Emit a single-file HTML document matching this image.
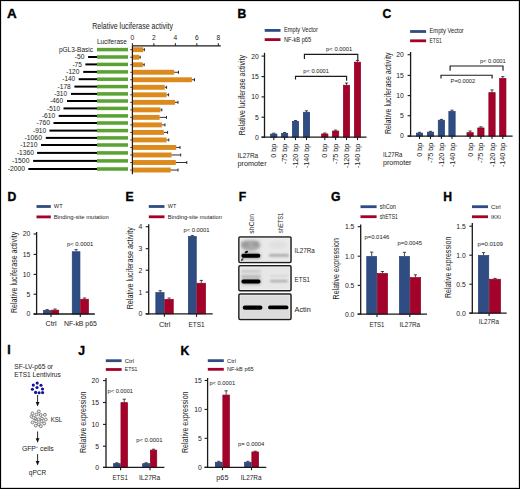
<!DOCTYPE html><html><head><meta charset="utf-8"><title>Figure</title><style>html,body{margin:0;padding:0;background:#fff;}svg{display:block;font-family:"Liberation Sans",sans-serif;}</style></head><body>
<svg width="520" height="489" viewBox="0 0 520 489" fill="#1a1a1a">
<rect x="0" y="0" width="520" height="489" fill="#fff"/>
<text x="7.1" y="17.6" font-size="12.2" font-weight="bold" fill="#000" style="stroke:#000;stroke-width:0.35px" transform="translate(7.1 0) scale(1.1 1) translate(-7.1 0)">A</text>
<text x="92.3" y="28.8" font-size="9.4" textLength="80.7" lengthAdjust="spacingAndGlyphs">Relative luciferase activity</text>
<text x="96.9" y="44.2" font-size="7.2" textLength="30" lengthAdjust="spacingAndGlyphs">Luciferase</text>
<line x1="132.4" y1="45.8" x2="220.8" y2="45.8" stroke="#1a1a1a" stroke-width="1.2"/>
<line x1="132.4" y1="43.2" x2="132.4" y2="45.8" stroke="#1a1a1a" stroke-width="1"/>
<text x="132.4" y="39.8" font-size="6.6" text-anchor="middle">0</text>
<line x1="153.88" y1="43.2" x2="153.88" y2="45.8" stroke="#1a1a1a" stroke-width="1"/>
<text x="153.88" y="39.8" font-size="6.6" text-anchor="middle">2</text>
<line x1="175.36" y1="43.2" x2="175.36" y2="45.8" stroke="#1a1a1a" stroke-width="1"/>
<text x="175.36" y="39.8" font-size="6.6" text-anchor="middle">4</text>
<line x1="196.84" y1="43.2" x2="196.84" y2="45.8" stroke="#1a1a1a" stroke-width="1"/>
<text x="196.84" y="39.8" font-size="6.6" text-anchor="middle">6</text>
<line x1="218.32" y1="43.2" x2="218.32" y2="45.8" stroke="#1a1a1a" stroke-width="1"/>
<text x="218.32" y="39.8" font-size="6.6" text-anchor="middle">8</text>
<line x1="132.4" y1="45.8" x2="132.4" y2="174.2" stroke="#1a1a1a" stroke-width="1.2"/>
<text x="58.9" y="51.85" font-size="7.4" textLength="34.1" lengthAdjust="spacingAndGlyphs">pGL3-Basic</text>
<rect x="97" y="47.85" width="31" height="3.5" fill="#5aa232"/>
<line x1="130.2" y1="49.7" x2="132.4" y2="49.7" stroke="#1a1a1a" stroke-width="0.8"/>
<rect x="133" y="47.25" width="10.2" height="4.9" fill="#dc8a1d"/>
<line x1="143.2" y1="49.7" x2="144.4" y2="49.7" stroke="#1a1a1a" stroke-width="0.9"/>
<line x1="144.4" y1="48.2" x2="144.4" y2="51.2" stroke="#1a1a1a" stroke-width="0.9"/>
<text x="74.8" y="59.25" font-size="7.4" textLength="9.7" lengthAdjust="spacingAndGlyphs">-50</text>
<rect x="88.1" y="56" width="8.9" height="2" fill="#000"/>
<rect x="97" y="55.25" width="31" height="3.5" fill="#5aa232"/>
<line x1="130.2" y1="57.22" x2="132.4" y2="57.22" stroke="#1a1a1a" stroke-width="0.8"/>
<rect x="133" y="54.77" width="6.2" height="4.9" fill="#dc8a1d"/>
<line x1="139.2" y1="57.22" x2="140.2" y2="57.22" stroke="#1a1a1a" stroke-width="0.9"/>
<line x1="140.2" y1="55.72" x2="140.2" y2="58.72" stroke="#1a1a1a" stroke-width="0.9"/>
<text x="72.4" y="66.65" font-size="7.4" textLength="9.4" lengthAdjust="spacingAndGlyphs">-75</text>
<rect x="85.4" y="63.4" width="11.6" height="2" fill="#000"/>
<rect x="97" y="62.65" width="31" height="3.5" fill="#5aa232"/>
<line x1="130.2" y1="64.74" x2="132.4" y2="64.74" stroke="#1a1a1a" stroke-width="0.8"/>
<rect x="133" y="62.29" width="9.8" height="4.9" fill="#dc8a1d"/>
<line x1="142.8" y1="64.74" x2="144.2" y2="64.74" stroke="#1a1a1a" stroke-width="0.9"/>
<line x1="144.2" y1="63.24" x2="144.2" y2="66.24" stroke="#1a1a1a" stroke-width="0.9"/>
<text x="66.3" y="74.15" font-size="7.4" textLength="13.1" lengthAdjust="spacingAndGlyphs">-120</text>
<rect x="83.2" y="70.9" width="13.8" height="2" fill="#000"/>
<rect x="97" y="70.15" width="31" height="3.5" fill="#5aa232"/>
<line x1="130.2" y1="72.26" x2="132.4" y2="72.26" stroke="#1a1a1a" stroke-width="0.8"/>
<rect x="133" y="69.81" width="41.2" height="4.9" fill="#dc8a1d"/>
<line x1="174.2" y1="72.26" x2="178.5" y2="72.26" stroke="#1a1a1a" stroke-width="0.9"/>
<line x1="178.5" y1="70.76" x2="178.5" y2="73.76" stroke="#1a1a1a" stroke-width="0.9"/>
<text x="62.3" y="81.45" font-size="7.4" textLength="12.8" lengthAdjust="spacingAndGlyphs">-140</text>
<rect x="78.7" y="78.2" width="18.3" height="2" fill="#000"/>
<rect x="97" y="77.45" width="31" height="3.5" fill="#5aa232"/>
<line x1="130.2" y1="79.78" x2="132.4" y2="79.78" stroke="#1a1a1a" stroke-width="0.8"/>
<rect x="133" y="77.33" width="58.9" height="4.9" fill="#dc8a1d"/>
<line x1="191.9" y1="79.78" x2="194.5" y2="79.78" stroke="#1a1a1a" stroke-width="0.9"/>
<line x1="194.5" y1="78.28" x2="194.5" y2="81.28" stroke="#1a1a1a" stroke-width="0.9"/>
<text x="57.6" y="88.85" font-size="7.4" textLength="13.2" lengthAdjust="spacingAndGlyphs">-178</text>
<rect x="74.4" y="85.6" width="22.6" height="2" fill="#000"/>
<rect x="97" y="84.85" width="31" height="3.5" fill="#5aa232"/>
<line x1="130.2" y1="87.3" x2="132.4" y2="87.3" stroke="#1a1a1a" stroke-width="0.8"/>
<rect x="133" y="84.85" width="31.7" height="4.9" fill="#dc8a1d"/>
<line x1="164.7" y1="87.3" x2="166.6" y2="87.3" stroke="#1a1a1a" stroke-width="0.9"/>
<line x1="166.6" y1="85.8" x2="166.6" y2="88.8" stroke="#1a1a1a" stroke-width="0.9"/>
<text x="54.2" y="96.15" font-size="7.4" textLength="12.8" lengthAdjust="spacingAndGlyphs">-310</text>
<rect x="71" y="92.9" width="26" height="2" fill="#000"/>
<rect x="97" y="92.15" width="31" height="3.5" fill="#5aa232"/>
<line x1="130.2" y1="94.82" x2="132.4" y2="94.82" stroke="#1a1a1a" stroke-width="0.8"/>
<rect x="133" y="92.37" width="33.5" height="4.9" fill="#dc8a1d"/>
<line x1="166.5" y1="94.82" x2="168.6" y2="94.82" stroke="#1a1a1a" stroke-width="0.9"/>
<line x1="168.6" y1="93.32" x2="168.6" y2="96.32" stroke="#1a1a1a" stroke-width="0.9"/>
<text x="50.2" y="103.25" font-size="7.4" textLength="12.8" lengthAdjust="spacingAndGlyphs">-460</text>
<rect x="67" y="100" width="30" height="2" fill="#000"/>
<rect x="97" y="99.25" width="31" height="3.5" fill="#5aa232"/>
<line x1="130.2" y1="102.34" x2="132.4" y2="102.34" stroke="#1a1a1a" stroke-width="0.8"/>
<rect x="133" y="99.89" width="42" height="4.9" fill="#dc8a1d"/>
<line x1="175" y1="102.34" x2="178" y2="102.34" stroke="#1a1a1a" stroke-width="0.9"/>
<line x1="178" y1="100.84" x2="178" y2="103.84" stroke="#1a1a1a" stroke-width="0.9"/>
<text x="47.1" y="110.65" font-size="7.4" textLength="12.9" lengthAdjust="spacingAndGlyphs">-510</text>
<rect x="63.5" y="107.4" width="33.5" height="2" fill="#000"/>
<rect x="97" y="106.65" width="31" height="3.5" fill="#5aa232"/>
<line x1="130.2" y1="109.86" x2="132.4" y2="109.86" stroke="#1a1a1a" stroke-width="0.8"/>
<rect x="133" y="107.41" width="27.4" height="4.9" fill="#dc8a1d"/>
<line x1="160.4" y1="109.86" x2="161.8" y2="109.86" stroke="#1a1a1a" stroke-width="0.9"/>
<line x1="161.8" y1="108.36" x2="161.8" y2="111.36" stroke="#1a1a1a" stroke-width="0.9"/>
<text x="41.9" y="118.15" font-size="7.4" textLength="13.3" lengthAdjust="spacingAndGlyphs">-610</text>
<rect x="58.7" y="114.9" width="38.3" height="2" fill="#000"/>
<rect x="97" y="114.15" width="31" height="3.5" fill="#5aa232"/>
<line x1="130.2" y1="117.38" x2="132.4" y2="117.38" stroke="#1a1a1a" stroke-width="0.8"/>
<rect x="133" y="114.93" width="26.6" height="4.9" fill="#dc8a1d"/>
<line x1="159.6" y1="117.38" x2="166.5" y2="117.38" stroke="#1a1a1a" stroke-width="0.9"/>
<line x1="166.5" y1="115.88" x2="166.5" y2="118.88" stroke="#1a1a1a" stroke-width="0.9"/>
<text x="36.5" y="125.25" font-size="7.4" textLength="13.5" lengthAdjust="spacingAndGlyphs">-760</text>
<rect x="53.5" y="122" width="43.5" height="2" fill="#000"/>
<rect x="97" y="121.25" width="31" height="3.5" fill="#5aa232"/>
<line x1="130.2" y1="124.9" x2="132.4" y2="124.9" stroke="#1a1a1a" stroke-width="0.8"/>
<rect x="133" y="122.45" width="28.9" height="4.9" fill="#dc8a1d"/>
<line x1="161.9" y1="124.9" x2="165" y2="124.9" stroke="#1a1a1a" stroke-width="0.9"/>
<line x1="165" y1="123.4" x2="165" y2="126.4" stroke="#1a1a1a" stroke-width="0.9"/>
<text x="33" y="132.85" font-size="7.4" textLength="13.2" lengthAdjust="spacingAndGlyphs">-910</text>
<rect x="49.4" y="129.6" width="47.6" height="2" fill="#000"/>
<rect x="97" y="128.85" width="31" height="3.5" fill="#5aa232"/>
<line x1="130.2" y1="132.42" x2="132.4" y2="132.42" stroke="#1a1a1a" stroke-width="0.8"/>
<rect x="133" y="129.97" width="30.8" height="4.9" fill="#dc8a1d"/>
<line x1="163.8" y1="132.42" x2="167.6" y2="132.42" stroke="#1a1a1a" stroke-width="0.9"/>
<line x1="167.6" y1="130.92" x2="167.6" y2="133.92" stroke="#1a1a1a" stroke-width="0.9"/>
<text x="24.6" y="140.15" font-size="7.4" textLength="17.3" lengthAdjust="spacingAndGlyphs">-1060</text>
<rect x="45.8" y="136.9" width="51.2" height="2" fill="#000"/>
<rect x="97" y="136.15" width="31" height="3.5" fill="#5aa232"/>
<line x1="130.2" y1="139.94" x2="132.4" y2="139.94" stroke="#1a1a1a" stroke-width="0.8"/>
<rect x="133" y="137.49" width="33.5" height="4.9" fill="#dc8a1d"/>
<line x1="166.5" y1="139.94" x2="168.8" y2="139.94" stroke="#1a1a1a" stroke-width="0.9"/>
<line x1="168.8" y1="138.44" x2="168.8" y2="141.44" stroke="#1a1a1a" stroke-width="0.9"/>
<text x="20.2" y="147.25" font-size="7.4" textLength="17.3" lengthAdjust="spacingAndGlyphs">-1210</text>
<rect x="41" y="144" width="56" height="2" fill="#000"/>
<rect x="97" y="143.25" width="31" height="3.5" fill="#5aa232"/>
<line x1="130.2" y1="147.46" x2="132.4" y2="147.46" stroke="#1a1a1a" stroke-width="0.8"/>
<rect x="133" y="145.01" width="43.2" height="4.9" fill="#dc8a1d"/>
<line x1="176.2" y1="147.46" x2="180" y2="147.46" stroke="#1a1a1a" stroke-width="0.9"/>
<line x1="180" y1="145.96" x2="180" y2="148.96" stroke="#1a1a1a" stroke-width="0.9"/>
<text x="16.9" y="155.15" font-size="7.4" textLength="17.1" lengthAdjust="spacingAndGlyphs">-1360</text>
<rect x="37.1" y="151.9" width="59.9" height="2" fill="#000"/>
<rect x="97" y="151.15" width="31" height="3.5" fill="#5aa232"/>
<line x1="130.2" y1="154.98" x2="132.4" y2="154.98" stroke="#1a1a1a" stroke-width="0.8"/>
<rect x="133" y="152.53" width="38.6" height="4.9" fill="#dc8a1d"/>
<line x1="171.6" y1="154.98" x2="180.7" y2="154.98" stroke="#1a1a1a" stroke-width="0.9"/>
<line x1="180.7" y1="153.48" x2="180.7" y2="156.48" stroke="#1a1a1a" stroke-width="0.9"/>
<text x="12.1" y="163.15" font-size="7.4" textLength="17.3" lengthAdjust="spacingAndGlyphs">-1500</text>
<rect x="33.1" y="159.9" width="63.9" height="2" fill="#000"/>
<rect x="97" y="159.15" width="31" height="3.5" fill="#5aa232"/>
<line x1="130.2" y1="162.5" x2="132.4" y2="162.5" stroke="#1a1a1a" stroke-width="0.8"/>
<rect x="133" y="160.05" width="42.8" height="4.9" fill="#dc8a1d"/>
<line x1="175.8" y1="162.5" x2="186.8" y2="162.5" stroke="#1a1a1a" stroke-width="0.9"/>
<line x1="186.8" y1="161" x2="186.8" y2="164" stroke="#1a1a1a" stroke-width="0.9"/>
<text x="7.7" y="171.25" font-size="7.4" textLength="17.3" lengthAdjust="spacingAndGlyphs">-2000</text>
<rect x="28.3" y="168" width="68.7" height="2" fill="#000"/>
<rect x="97" y="167.25" width="31" height="3.5" fill="#5aa232"/>
<line x1="130.2" y1="170.02" x2="132.4" y2="170.02" stroke="#1a1a1a" stroke-width="0.8"/>
<rect x="133" y="167.57" width="37.7" height="4.9" fill="#dc8a1d"/>
<line x1="170.7" y1="170.02" x2="178" y2="170.02" stroke="#1a1a1a" stroke-width="0.9"/>
<line x1="178" y1="168.52" x2="178" y2="171.52" stroke="#1a1a1a" stroke-width="0.9"/>
<text x="237.4" y="17.7" font-size="12.2" font-weight="bold" fill="#000" style="stroke:#000;stroke-width:0.35px">B</text>
<rect x="264.7" y="29" width="15.8" height="2.8" fill="#2f4d82"/>
<rect x="264.7" y="38.2" width="15.8" height="2.8" fill="#a3022b"/>
<text x="284" y="32.3" font-size="6.6" textLength="33.9" lengthAdjust="spacingAndGlyphs">Empty Vector</text>
<text x="284" y="41.5" font-size="6.6" textLength="27.1" lengthAdjust="spacingAndGlyphs">NF-kB p65</text>
<text transform="translate(244.8 135.3) rotate(-90)" x="0" y="0" font-size="9.9" textLength="80.2" lengthAdjust="spacingAndGlyphs">Relative luciferase activity</text>
<line x1="264.5" y1="52.8" x2="264.5" y2="137.7" stroke="#1a1a1a" stroke-width="1.3"/>
<line x1="261.5" y1="56.1" x2="264.5" y2="56.1" stroke="#1a1a1a" stroke-width="1.1"/>
<text x="258.8" y="58.55" font-size="6.8" text-anchor="end">20</text>
<line x1="261.5" y1="76.6" x2="264.5" y2="76.6" stroke="#1a1a1a" stroke-width="1.1"/>
<text x="258.8" y="79.05" font-size="6.8" text-anchor="end">15</text>
<line x1="261.5" y1="96.9" x2="264.5" y2="96.9" stroke="#1a1a1a" stroke-width="1.1"/>
<text x="258.8" y="99.35" font-size="6.8" text-anchor="end">10</text>
<line x1="261.5" y1="117.2" x2="264.5" y2="117.2" stroke="#1a1a1a" stroke-width="1.1"/>
<text x="258.8" y="119.65" font-size="6.8" text-anchor="end">5</text>
<line x1="261.5" y1="137.2" x2="264.5" y2="137.2" stroke="#1a1a1a" stroke-width="1.1"/>
<text x="258.8" y="139.65" font-size="6.8" text-anchor="end">0</text>
<rect x="270.65" y="134.05" width="6.3" height="3.15" fill="#2f4d82" stroke="#213e72" stroke-width="0.7"/>
<line x1="273.8" y1="133.7" x2="273.8" y2="133.2" stroke="#1a1a1a" stroke-width="0.8"/>
<line x1="272.2" y1="133.2" x2="275.4" y2="133.2" stroke="#1a1a1a" stroke-width="0.8"/>
<rect x="281.45" y="133.35" width="6.3" height="3.85" fill="#2f4d82" stroke="#213e72" stroke-width="0.7"/>
<line x1="284.6" y1="133" x2="284.6" y2="132.5" stroke="#1a1a1a" stroke-width="0.8"/>
<line x1="283" y1="132.5" x2="286.2" y2="132.5" stroke="#1a1a1a" stroke-width="0.8"/>
<rect x="292.35" y="121.35" width="6.3" height="15.85" fill="#2f4d82" stroke="#213e72" stroke-width="0.7"/>
<line x1="295.5" y1="121" x2="295.5" y2="120.5" stroke="#1a1a1a" stroke-width="0.8"/>
<line x1="293.9" y1="120.5" x2="297.1" y2="120.5" stroke="#1a1a1a" stroke-width="0.8"/>
<rect x="303.35" y="112.25" width="6.3" height="24.95" fill="#2f4d82" stroke="#213e72" stroke-width="0.7"/>
<line x1="306.5" y1="111.9" x2="306.5" y2="110.8" stroke="#1a1a1a" stroke-width="0.8"/>
<line x1="304.9" y1="110.8" x2="308.1" y2="110.8" stroke="#1a1a1a" stroke-width="0.8"/>
<rect x="321.65" y="133.95" width="6.3" height="3.25" fill="#a3022b" stroke="#92001f" stroke-width="0.7"/>
<line x1="324.8" y1="133.6" x2="324.8" y2="133" stroke="#1a1a1a" stroke-width="0.8"/>
<line x1="323.2" y1="133" x2="326.4" y2="133" stroke="#1a1a1a" stroke-width="0.8"/>
<rect x="332.45" y="131.05" width="6.3" height="6.15" fill="#a3022b" stroke="#92001f" stroke-width="0.7"/>
<line x1="335.6" y1="130.7" x2="335.6" y2="130.1" stroke="#1a1a1a" stroke-width="0.8"/>
<line x1="334" y1="130.1" x2="337.2" y2="130.1" stroke="#1a1a1a" stroke-width="0.8"/>
<rect x="343.35" y="85.25" width="6.3" height="51.95" fill="#a3022b" stroke="#92001f" stroke-width="0.7"/>
<line x1="346.5" y1="84.9" x2="346.5" y2="83" stroke="#1a1a1a" stroke-width="0.8"/>
<line x1="344.9" y1="83" x2="348.1" y2="83" stroke="#1a1a1a" stroke-width="0.8"/>
<rect x="354.35" y="62.15" width="6.3" height="75.05" fill="#a3022b" stroke="#92001f" stroke-width="0.7"/>
<line x1="357.5" y1="61.8" x2="357.5" y2="60.5" stroke="#1a1a1a" stroke-width="0.8"/>
<line x1="355.9" y1="60.5" x2="359.1" y2="60.5" stroke="#1a1a1a" stroke-width="0.8"/>
<line x1="261.5" y1="137.2" x2="366.5" y2="137.2" stroke="#1a1a1a" stroke-width="1.3"/>
<line x1="273.8" y1="137.2" x2="273.8" y2="140.1" stroke="#1a1a1a" stroke-width="1.1"/>
<line x1="284.6" y1="137.2" x2="284.6" y2="140.1" stroke="#1a1a1a" stroke-width="1.1"/>
<line x1="295.5" y1="137.2" x2="295.5" y2="140.1" stroke="#1a1a1a" stroke-width="1.1"/>
<line x1="306.5" y1="137.2" x2="306.5" y2="140.1" stroke="#1a1a1a" stroke-width="1.1"/>
<line x1="324.8" y1="137.2" x2="324.8" y2="140.1" stroke="#1a1a1a" stroke-width="1.1"/>
<line x1="335.6" y1="137.2" x2="335.6" y2="140.1" stroke="#1a1a1a" stroke-width="1.1"/>
<line x1="346.5" y1="137.2" x2="346.5" y2="140.1" stroke="#1a1a1a" stroke-width="1.1"/>
<line x1="357.5" y1="137.2" x2="357.5" y2="140.1" stroke="#1a1a1a" stroke-width="1.1"/>
<text transform="translate(276.39 143.7) rotate(-90)" x="0" y="0" font-size="7.2" text-anchor="end">0 bp</text>
<text transform="translate(287.19 143.7) rotate(-90)" x="0" y="0" font-size="7.2" text-anchor="end">-75 bp</text>
<text transform="translate(298.09 143.7) rotate(-90)" x="0" y="0" font-size="7.2" text-anchor="end">-120 bp</text>
<text transform="translate(309.09 143.7) rotate(-90)" x="0" y="0" font-size="7.2" text-anchor="end">-140 bp</text>
<text transform="translate(327.39 143.7) rotate(-90)" x="0" y="0" font-size="7.2" text-anchor="end">0 bp</text>
<text transform="translate(338.19 143.7) rotate(-90)" x="0" y="0" font-size="7.2" text-anchor="end">-75 bp</text>
<text transform="translate(349.09 143.7) rotate(-90)" x="0" y="0" font-size="7.2" text-anchor="end">-120 bp</text>
<text transform="translate(360.09 143.7) rotate(-90)" x="0" y="0" font-size="7.2" text-anchor="end">-140 bp</text>
<text x="237.4" y="157.96" font-size="7.1" textLength="20.8" lengthAdjust="spacingAndGlyphs">IL27Ra</text>
<text x="237.4" y="166.06" font-size="7.1" textLength="29.2" lengthAdjust="spacingAndGlyphs">promoter</text>
<path d="M304.4 59.0 L304.4 54.3 L357.8 54.3 L357.8 60.0" fill="none" stroke="#1a1a1a" stroke-width="1.15"/>
<text x="326.1" y="51" font-size="6.2" textLength="26.2" lengthAdjust="spacingAndGlyphs">p&lt; 0.0001</text>
<path d="M295.5 79.5 L295.5 76.3 L346.6 76.3 L346.6 80.7" fill="none" stroke="#1a1a1a" stroke-width="1.15"/>
<text x="303.3" y="73.3" font-size="6.2" textLength="25.7" lengthAdjust="spacingAndGlyphs">p&lt; 0.0001</text>
<text x="382.6" y="17.7" font-size="12.2" font-weight="bold" fill="#000" style="stroke:#000;stroke-width:0.35px">C</text>
<rect x="410.1" y="30.1" width="16" height="2.8" fill="#2f4d82"/>
<rect x="410.1" y="39.4" width="16" height="2.8" fill="#a3022b"/>
<text x="429.5" y="33.4" font-size="6.4" textLength="34.3" lengthAdjust="spacingAndGlyphs">Empty Vector</text>
<text x="429.5" y="42.7" font-size="6.4" textLength="12.1" lengthAdjust="spacingAndGlyphs">ETS1</text>
<text transform="translate(390.6 134.1) rotate(-90)" x="0" y="0" font-size="9.9" textLength="81.6" lengthAdjust="spacingAndGlyphs">Relative luciferase activity</text>
<line x1="410.6" y1="52" x2="410.6" y2="136.7" stroke="#1a1a1a" stroke-width="1.3"/>
<line x1="407.6" y1="54.7" x2="410.6" y2="54.7" stroke="#1a1a1a" stroke-width="1.1"/>
<text x="403.8" y="57.15" font-size="6.8" text-anchor="end">20</text>
<line x1="407.6" y1="75.4" x2="410.6" y2="75.4" stroke="#1a1a1a" stroke-width="1.1"/>
<text x="403.8" y="77.85" font-size="6.8" text-anchor="end">15</text>
<line x1="407.6" y1="95.6" x2="410.6" y2="95.6" stroke="#1a1a1a" stroke-width="1.1"/>
<text x="403.8" y="98.05" font-size="6.8" text-anchor="end">10</text>
<line x1="407.6" y1="115.7" x2="410.6" y2="115.7" stroke="#1a1a1a" stroke-width="1.1"/>
<text x="403.8" y="118.15" font-size="6.8" text-anchor="end">5</text>
<line x1="407.6" y1="136" x2="410.6" y2="136" stroke="#1a1a1a" stroke-width="1.1"/>
<text x="403.8" y="138.45" font-size="6.8" text-anchor="end">0</text>
<rect x="416.35" y="133.15" width="6.3" height="3.05" fill="#2f4d82" stroke="#213e72" stroke-width="0.7"/>
<line x1="419.5" y1="132.8" x2="419.5" y2="132.3" stroke="#1a1a1a" stroke-width="0.8"/>
<line x1="417.9" y1="132.3" x2="421.1" y2="132.3" stroke="#1a1a1a" stroke-width="0.8"/>
<rect x="427.35" y="132.15" width="6.3" height="4.05" fill="#2f4d82" stroke="#213e72" stroke-width="0.7"/>
<line x1="430.5" y1="131.8" x2="430.5" y2="131.3" stroke="#1a1a1a" stroke-width="0.8"/>
<line x1="428.9" y1="131.3" x2="432.1" y2="131.3" stroke="#1a1a1a" stroke-width="0.8"/>
<rect x="438.25" y="120.25" width="6.3" height="15.95" fill="#2f4d82" stroke="#213e72" stroke-width="0.7"/>
<line x1="441.4" y1="119.9" x2="441.4" y2="119.4" stroke="#1a1a1a" stroke-width="0.8"/>
<line x1="439.8" y1="119.4" x2="443" y2="119.4" stroke="#1a1a1a" stroke-width="0.8"/>
<rect x="448.85" y="111.45" width="6.3" height="24.75" fill="#2f4d82" stroke="#213e72" stroke-width="0.7"/>
<line x1="452" y1="111.1" x2="452" y2="110.2" stroke="#1a1a1a" stroke-width="0.8"/>
<line x1="450.4" y1="110.2" x2="453.6" y2="110.2" stroke="#1a1a1a" stroke-width="0.8"/>
<rect x="466.95" y="132.65" width="6.3" height="3.55" fill="#a3022b" stroke="#92001f" stroke-width="0.7"/>
<line x1="470.1" y1="132.3" x2="470.1" y2="131" stroke="#1a1a1a" stroke-width="0.8"/>
<line x1="468.5" y1="131" x2="471.7" y2="131" stroke="#1a1a1a" stroke-width="0.8"/>
<rect x="477.75" y="127.95" width="6.3" height="8.25" fill="#a3022b" stroke="#92001f" stroke-width="0.7"/>
<line x1="480.9" y1="127.6" x2="480.9" y2="126.8" stroke="#1a1a1a" stroke-width="0.8"/>
<line x1="479.3" y1="126.8" x2="482.5" y2="126.8" stroke="#1a1a1a" stroke-width="0.8"/>
<rect x="488.85" y="92.65" width="6.3" height="43.55" fill="#a3022b" stroke="#92001f" stroke-width="0.7"/>
<line x1="492" y1="92.3" x2="492" y2="89.9" stroke="#1a1a1a" stroke-width="0.8"/>
<line x1="490.4" y1="89.9" x2="493.6" y2="89.9" stroke="#1a1a1a" stroke-width="0.8"/>
<rect x="499.65" y="78.35" width="6.3" height="57.85" fill="#a3022b" stroke="#92001f" stroke-width="0.7"/>
<line x1="502.8" y1="78" x2="502.8" y2="76.6" stroke="#1a1a1a" stroke-width="0.8"/>
<line x1="501.2" y1="76.6" x2="504.4" y2="76.6" stroke="#1a1a1a" stroke-width="0.8"/>
<line x1="407.6" y1="136.2" x2="512.6" y2="136.2" stroke="#1a1a1a" stroke-width="1.3"/>
<line x1="419.5" y1="136.2" x2="419.5" y2="139.1" stroke="#1a1a1a" stroke-width="1.1"/>
<line x1="430.5" y1="136.2" x2="430.5" y2="139.1" stroke="#1a1a1a" stroke-width="1.1"/>
<line x1="441.4" y1="136.2" x2="441.4" y2="139.1" stroke="#1a1a1a" stroke-width="1.1"/>
<line x1="452" y1="136.2" x2="452" y2="139.1" stroke="#1a1a1a" stroke-width="1.1"/>
<line x1="470.1" y1="136.2" x2="470.1" y2="139.1" stroke="#1a1a1a" stroke-width="1.1"/>
<line x1="480.9" y1="136.2" x2="480.9" y2="139.1" stroke="#1a1a1a" stroke-width="1.1"/>
<line x1="492" y1="136.2" x2="492" y2="139.1" stroke="#1a1a1a" stroke-width="1.1"/>
<line x1="502.8" y1="136.2" x2="502.8" y2="139.1" stroke="#1a1a1a" stroke-width="1.1"/>
<text transform="translate(422.09 142.7) rotate(-90)" x="0" y="0" font-size="7.2" text-anchor="end">0 bp</text>
<text transform="translate(433.09 142.7) rotate(-90)" x="0" y="0" font-size="7.2" text-anchor="end">-75 bp</text>
<text transform="translate(443.99 142.7) rotate(-90)" x="0" y="0" font-size="7.2" text-anchor="end">-120 bp</text>
<text transform="translate(454.59 142.7) rotate(-90)" x="0" y="0" font-size="7.2" text-anchor="end">-140 bp</text>
<text transform="translate(472.69 142.7) rotate(-90)" x="0" y="0" font-size="7.2" text-anchor="end">0 bp</text>
<text transform="translate(483.49 142.7) rotate(-90)" x="0" y="0" font-size="7.2" text-anchor="end">-75 bp</text>
<text transform="translate(494.59 142.7) rotate(-90)" x="0" y="0" font-size="7.2" text-anchor="end">-120 bp</text>
<text transform="translate(505.39 142.7) rotate(-90)" x="0" y="0" font-size="7.2" text-anchor="end">-140 bp</text>
<text x="383" y="156.96" font-size="7.1" textLength="19.3" lengthAdjust="spacingAndGlyphs">IL27Ra</text>
<text x="383" y="165.06" font-size="7.1" textLength="28.5" lengthAdjust="spacingAndGlyphs">promoter</text>
<path d="M450.1 70.7 L450.1 66.0 L503.0 66.0 L503.0 70.7" fill="none" stroke="#1a1a1a" stroke-width="1.15"/>
<text x="479.9" y="63.1" font-size="6.2" textLength="25.9" lengthAdjust="spacingAndGlyphs">p&lt; 0.0001</text>
<path d="M441.0 78.4 L441.0 75.2 L492.1 75.2 L492.1 78.4" fill="none" stroke="#1a1a1a" stroke-width="1.15"/>
<text x="450.6" y="83.3" font-size="6.2" textLength="24.6" lengthAdjust="spacingAndGlyphs">P=0.0002</text>
<text x="7.6" y="200.8" font-size="12.2" font-weight="bold" fill="#000" style="stroke:#000;stroke-width:0.35px">D</text>
<rect x="36.5" y="205.1" width="14.3" height="2.8" fill="#2f4d82"/>
<rect x="36.5" y="215.5" width="14.3" height="2.8" fill="#a3022b"/>
<text x="53.8" y="208.4" font-size="6.2" textLength="8.8" lengthAdjust="spacingAndGlyphs">WT</text>
<text x="53.8" y="218.8" font-size="6.2" textLength="55" lengthAdjust="spacingAndGlyphs">Binding-site mutation</text>
<text transform="translate(16.7 313.1) rotate(-90)" x="0" y="0" font-size="9.9" textLength="81.3" lengthAdjust="spacingAndGlyphs">Relative luciferase activity</text>
<line x1="36.6" y1="232" x2="36.6" y2="314.5" stroke="#1a1a1a" stroke-width="1.3"/>
<line x1="33.6" y1="234" x2="36.6" y2="234" stroke="#1a1a1a" stroke-width="1.1"/>
<text x="30.2" y="236.45" font-size="6.8" text-anchor="end">20</text>
<line x1="33.6" y1="254.4" x2="36.6" y2="254.4" stroke="#1a1a1a" stroke-width="1.1"/>
<text x="30.2" y="256.85" font-size="6.8" text-anchor="end">15</text>
<line x1="33.6" y1="274.4" x2="36.6" y2="274.4" stroke="#1a1a1a" stroke-width="1.1"/>
<text x="30.2" y="276.85" font-size="6.8" text-anchor="end">10</text>
<line x1="33.6" y1="294.2" x2="36.6" y2="294.2" stroke="#1a1a1a" stroke-width="1.1"/>
<text x="30.2" y="296.65" font-size="6.8" text-anchor="end">5</text>
<line x1="33.6" y1="314" x2="36.6" y2="314" stroke="#1a1a1a" stroke-width="1.1"/>
<text x="30.2" y="316.45" font-size="6.8" text-anchor="end">0</text>
<rect x="43.55" y="310.45" width="7.1" height="3.55" fill="#2f4d82" stroke="#213e72" stroke-width="0.7"/>
<line x1="47.1" y1="310.1" x2="47.1" y2="309.6" stroke="#1a1a1a" stroke-width="0.8"/>
<line x1="45.5" y1="309.6" x2="48.7" y2="309.6" stroke="#1a1a1a" stroke-width="0.8"/>
<rect x="51.35" y="310.15" width="7.4" height="3.85" fill="#a3022b" stroke="#92001f" stroke-width="0.7"/>
<line x1="55.05" y1="309.8" x2="55.05" y2="309" stroke="#1a1a1a" stroke-width="0.8"/>
<line x1="53.45" y1="309" x2="56.65" y2="309" stroke="#1a1a1a" stroke-width="0.8"/>
<rect x="72.25" y="251.75" width="7.7" height="62.25" fill="#2f4d82" stroke="#213e72" stroke-width="0.7"/>
<line x1="76.1" y1="251.4" x2="76.1" y2="249.6" stroke="#1a1a1a" stroke-width="0.8"/>
<line x1="74.5" y1="249.6" x2="77.7" y2="249.6" stroke="#1a1a1a" stroke-width="0.8"/>
<rect x="80.65" y="299.25" width="7.8" height="14.75" fill="#a3022b" stroke="#92001f" stroke-width="0.7"/>
<line x1="84.55" y1="298.9" x2="84.55" y2="298" stroke="#1a1a1a" stroke-width="0.8"/>
<line x1="82.95" y1="298" x2="86.15" y2="298" stroke="#1a1a1a" stroke-width="0.8"/>
<line x1="33.6" y1="314" x2="94.8" y2="314" stroke="#1a1a1a" stroke-width="1.3"/>
<line x1="51" y1="314" x2="51" y2="316.9" stroke="#1a1a1a" stroke-width="1.1"/>
<line x1="80.3" y1="314" x2="80.3" y2="316.9" stroke="#1a1a1a" stroke-width="1.1"/>
<text x="66.9" y="245.7" font-size="6.2" textLength="26.4" lengthAdjust="spacingAndGlyphs">p&lt; 0.0001</text>
<text x="45.5" y="326.46" font-size="7.4" textLength="11.2" lengthAdjust="spacingAndGlyphs">Ctrl</text>
<text x="63.9" y="326.46" font-size="7.4" textLength="33" lengthAdjust="spacingAndGlyphs">NF-kB p65</text>
<text x="125.4" y="200.8" font-size="12.2" font-weight="bold" fill="#000" style="stroke:#000;stroke-width:0.35px">E</text>
<rect x="148.8" y="205.1" width="15.7" height="2.8" fill="#2f4d82"/>
<rect x="148.8" y="215.4" width="15.7" height="2.8" fill="#a3022b"/>
<text x="167.8" y="208.4" font-size="6.2" textLength="8.4" lengthAdjust="spacingAndGlyphs">WT</text>
<text x="167.8" y="218.7" font-size="6.2" textLength="54.1" lengthAdjust="spacingAndGlyphs">Binding-site mutation</text>
<text transform="translate(132.6 309.3) rotate(-90)" x="0" y="0" font-size="9.9" textLength="82.1" lengthAdjust="spacingAndGlyphs">Relative luciferase activity</text>
<line x1="148.7" y1="224.2" x2="148.7" y2="314.4" stroke="#1a1a1a" stroke-width="1.3"/>
<line x1="145.7" y1="226.7" x2="148.7" y2="226.7" stroke="#1a1a1a" stroke-width="1.1"/>
<text x="142.2" y="229.15" font-size="6.8" text-anchor="end">4</text>
<line x1="145.7" y1="248.7" x2="148.7" y2="248.7" stroke="#1a1a1a" stroke-width="1.1"/>
<text x="142.2" y="251.15" font-size="6.8" text-anchor="end">3</text>
<line x1="145.7" y1="270.2" x2="148.7" y2="270.2" stroke="#1a1a1a" stroke-width="1.1"/>
<text x="142.2" y="272.65" font-size="6.8" text-anchor="end">2</text>
<line x1="145.7" y1="292.1" x2="148.7" y2="292.1" stroke="#1a1a1a" stroke-width="1.1"/>
<text x="142.2" y="294.55" font-size="6.8" text-anchor="end">1</text>
<line x1="145.7" y1="313.9" x2="148.7" y2="313.9" stroke="#1a1a1a" stroke-width="1.1"/>
<text x="142.2" y="316.35" font-size="6.8" text-anchor="end">0</text>
<rect x="155.85" y="292.65" width="8.2" height="21.25" fill="#2f4d82" stroke="#213e72" stroke-width="0.7"/>
<line x1="160.2" y1="292.3" x2="160.2" y2="290.7" stroke="#1a1a1a" stroke-width="0.8"/>
<line x1="158.6" y1="290.7" x2="161.8" y2="290.7" stroke="#1a1a1a" stroke-width="0.8"/>
<rect x="164.75" y="299.35" width="8.5" height="14.55" fill="#a3022b" stroke="#92001f" stroke-width="0.7"/>
<line x1="169.1" y1="298.8" x2="169.1" y2="298" stroke="#1a1a1a" stroke-width="0.8"/>
<line x1="167.5" y1="298" x2="170.7" y2="298" stroke="#1a1a1a" stroke-width="0.8"/>
<rect x="188.35" y="236.45" width="7.9" height="77.45" fill="#2f4d82" stroke="#213e72" stroke-width="0.7"/>
<line x1="192.3" y1="236.1" x2="192.3" y2="235.6" stroke="#1a1a1a" stroke-width="0.8"/>
<line x1="190.7" y1="235.6" x2="193.9" y2="235.6" stroke="#1a1a1a" stroke-width="0.8"/>
<rect x="196.95" y="283.25" width="8.6" height="30.65" fill="#a3022b" stroke="#92001f" stroke-width="0.7"/>
<line x1="201.3" y1="282.9" x2="201.3" y2="280.4" stroke="#1a1a1a" stroke-width="0.8"/>
<line x1="199.7" y1="280.4" x2="202.9" y2="280.4" stroke="#1a1a1a" stroke-width="0.8"/>
<line x1="145.7" y1="313.9" x2="212.7" y2="313.9" stroke="#1a1a1a" stroke-width="1.3"/>
<line x1="164.4" y1="313.9" x2="164.4" y2="316.8" stroke="#1a1a1a" stroke-width="1.1"/>
<line x1="196.5" y1="313.9" x2="196.5" y2="316.8" stroke="#1a1a1a" stroke-width="1.1"/>
<text x="183.4" y="232" font-size="6.2" textLength="26.2" lengthAdjust="spacingAndGlyphs">p&lt; 0.0001</text>
<text x="158.9" y="326.86" font-size="7.4" textLength="11.6" lengthAdjust="spacingAndGlyphs">Ctrl</text>
<text x="188.5" y="326.86" font-size="7.4" textLength="16.1" lengthAdjust="spacingAndGlyphs">ETS1</text>
<text x="238.8" y="200.5" font-size="12.2" font-weight="bold" fill="#000" style="stroke:#000;stroke-width:0.35px">F</text>
<text transform="translate(253.8 233.7) rotate(-90)" x="0" y="0" font-size="6.4" textLength="19.7" lengthAdjust="spacingAndGlyphs">shCon</text>
<text transform="translate(283.1 233) rotate(-90)" x="0" y="0" font-size="6.4" textLength="20.1" lengthAdjust="spacingAndGlyphs">shETS1</text>
<defs><filter id="blur05" x="-20%" y="-80%" width="140%" height="260%"><feGaussianBlur stdDeviation="0.55"/></filter><filter id="blur1" x="-20%" y="-80%" width="140%" height="260%"><feGaussianBlur stdDeviation="0.9"/></filter><filter id="blur2" x="-30%" y="-80%" width="160%" height="260%"><feGaussianBlur stdDeviation="1.5"/></filter></defs>
<rect x="238.9" y="236.9" width="52.1" height="25.6" fill="#e9e9e9"/>
<g filter="url(#blur2)"><ellipse cx="250.5" cy="245.5" rx="10" ry="5.5" fill="#9a9a9a" opacity="0.8"/><ellipse cx="245" cy="244" rx="4" ry="3" fill="#8e8e8e" opacity="0.6"/><ellipse cx="256" cy="243.5" rx="3.5" ry="3" fill="#909090" opacity="0.6"/><ellipse cx="278" cy="245" rx="9" ry="4" fill="#dadada" opacity="0.6"/></g>
<rect filter="url(#blur2)" x="241" y="253" width="19.8" height="5.6" rx="2.8" fill="#777" opacity="0.7"/>
<rect filter="url(#blur05)" x="241.4" y="253.7" width="18.9" height="4" rx="2" fill="#000" opacity="1"/>
<g filter="url(#blur05)"><ellipse cx="246.4" cy="252.0" rx="1.8" ry="1.0" fill="#111" transform="rotate(-20 246.4 252)"/><ellipse cx="242.2" cy="259.6" rx="1.6" ry="0.8" fill="#333" transform="rotate(-45 242.2 259.6)"/></g>
<rect filter="url(#blur1)" x="268.9" y="254" width="20.1" height="2.8" rx="1.4" fill="#a4a4a4" opacity="0.9"/>
<rect x="238.9" y="236.9" width="52.1" height="25.6" rx="1.2" fill="none" stroke="#1c1c1c" stroke-width="1.5"/>
<rect x="240.1" y="238.1" width="49.7" height="23.2" fill="none" stroke="#f4f4f4" stroke-width="0.6" opacity="0.8"/>
<rect x="238.9" y="265.8" width="52.1" height="25" fill="#e7e7e7"/>
<rect filter="url(#blur1)" x="241" y="270.5" width="20" height="2" rx="1" fill="#b4b4b4" opacity="0.8"/>
<rect filter="url(#blur1)" x="241" y="275" width="20" height="2.4" rx="1.2" fill="#a8a8a8" opacity="0.8"/>
<rect filter="url(#blur1)" x="270" y="275.2" width="18" height="1.6" rx="0.8" fill="#d0d0d0" opacity="0.8"/>
<rect filter="url(#blur2)" x="241" y="278.8" width="20" height="5.4" rx="2.7" fill="#777" opacity="0.7"/>
<rect filter="url(#blur05)" x="241.4" y="279.6" width="19.1" height="3.8" rx="1.9" fill="#000" opacity="1"/>
<rect filter="url(#blur1)" x="270" y="280.1" width="17.8" height="2.2" rx="1.1" fill="#a2a2a2" opacity="0.9"/>
<rect x="238.9" y="265.8" width="52.1" height="25" rx="1.2" fill="none" stroke="#1c1c1c" stroke-width="1.5"/>
<rect x="240.1" y="267" width="49.7" height="22.6" fill="none" stroke="#f4f4f4" stroke-width="0.6" opacity="0.8"/>
<rect x="238.9" y="294" width="52.1" height="25.4" fill="#dcdcdc"/>
<rect filter="url(#blur05)" x="242.7" y="305.55" width="19.8" height="4.3" rx="2.15" fill="#000" opacity="1"/>
<rect filter="url(#blur05)" x="268.1" y="305.55" width="20.3" height="3.7" rx="1.85" fill="#000" opacity="1"/>
<rect x="238.9" y="294" width="52.1" height="25.4" rx="1.2" fill="none" stroke="#1c1c1c" stroke-width="1.5"/>
<rect x="240.1" y="295.2" width="49.7" height="23" fill="none" stroke="#f4f4f4" stroke-width="0.6" opacity="0.8"/>
<text x="294.6" y="253.12" font-size="7" textLength="20.2" lengthAdjust="spacingAndGlyphs">IL27Ra</text>
<text x="294.6" y="282.12" font-size="7" textLength="15.3" lengthAdjust="spacingAndGlyphs">ETS1</text>
<text x="294.6" y="312.12" font-size="7" textLength="16.2" lengthAdjust="spacingAndGlyphs">Actin</text>
<text x="331" y="200.8" font-size="12.2" font-weight="bold" fill="#000" style="stroke:#000;stroke-width:0.35px">G</text>
<rect x="360.5" y="205.3" width="16.1" height="2.8" fill="#2f4d82"/>
<rect x="360.5" y="215.3" width="16.1" height="2.8" fill="#a3022b"/>
<text x="379.8" y="208.6" font-size="6.4" textLength="16.1" lengthAdjust="spacingAndGlyphs">shCon</text>
<text x="379.8" y="218.6" font-size="6.4" textLength="18.1" lengthAdjust="spacingAndGlyphs">shETS1</text>
<text transform="translate(338.8 299.4) rotate(-90)" x="0" y="0" font-size="9.9" textLength="61.3" lengthAdjust="spacingAndGlyphs">Relative expression</text>
<line x1="360.7" y1="224.5" x2="360.7" y2="314.6" stroke="#1a1a1a" stroke-width="1.3"/>
<line x1="357.7" y1="226.7" x2="360.7" y2="226.7" stroke="#1a1a1a" stroke-width="1.1"/>
<text x="354.4" y="229.15" font-size="6.8" text-anchor="end">1.5</text>
<line x1="357.7" y1="256.2" x2="360.7" y2="256.2" stroke="#1a1a1a" stroke-width="1.1"/>
<text x="354.4" y="258.65" font-size="6.8" text-anchor="end">1.0</text>
<line x1="357.7" y1="285.4" x2="360.7" y2="285.4" stroke="#1a1a1a" stroke-width="1.1"/>
<text x="354.4" y="287.85" font-size="6.8" text-anchor="end">0.5</text>
<line x1="357.7" y1="314.1" x2="360.7" y2="314.1" stroke="#1a1a1a" stroke-width="1.1"/>
<text x="354.4" y="316.55" font-size="6.8" text-anchor="end">0.0</text>
<rect x="366.75" y="256.55" width="9.9" height="57.55" fill="#2f4d82" stroke="#213e72" stroke-width="0.7"/>
<line x1="371.7" y1="256.2" x2="371.7" y2="252.1" stroke="#1a1a1a" stroke-width="0.8"/>
<line x1="370.1" y1="252.1" x2="373.3" y2="252.1" stroke="#1a1a1a" stroke-width="0.8"/>
<rect x="377.35" y="273.55" width="10.2" height="40.55" fill="#a3022b" stroke="#92001f" stroke-width="0.7"/>
<line x1="382.45" y1="273.2" x2="382.45" y2="271.5" stroke="#1a1a1a" stroke-width="0.8"/>
<line x1="380.85" y1="271.5" x2="384.05" y2="271.5" stroke="#1a1a1a" stroke-width="0.8"/>
<rect x="399.45" y="256.55" width="10" height="57.55" fill="#2f4d82" stroke="#213e72" stroke-width="0.7"/>
<line x1="404.45" y1="256.2" x2="404.45" y2="252.3" stroke="#1a1a1a" stroke-width="0.8"/>
<line x1="402.85" y1="252.3" x2="406.05" y2="252.3" stroke="#1a1a1a" stroke-width="0.8"/>
<rect x="410.15" y="277.65" width="10.5" height="36.45" fill="#a3022b" stroke="#92001f" stroke-width="0.7"/>
<line x1="415.4" y1="277.3" x2="415.4" y2="274.8" stroke="#1a1a1a" stroke-width="0.8"/>
<line x1="413.8" y1="274.8" x2="417" y2="274.8" stroke="#1a1a1a" stroke-width="0.8"/>
<line x1="357.7" y1="314.1" x2="427" y2="314.1" stroke="#1a1a1a" stroke-width="1.3"/>
<line x1="377" y1="314.1" x2="377" y2="317" stroke="#1a1a1a" stroke-width="1.1"/>
<line x1="409.8" y1="314.1" x2="409.8" y2="317" stroke="#1a1a1a" stroke-width="1.1"/>
<text x="364.4" y="239.03" font-size="6.2" textLength="24.9" lengthAdjust="spacingAndGlyphs">p=0.0146</text>
<text x="397.5" y="245.13" font-size="6.2" textLength="24.5" lengthAdjust="spacingAndGlyphs">p=0.0045</text>
<text x="369.4" y="326.86" font-size="7.4" textLength="15" lengthAdjust="spacingAndGlyphs">ETS1</text>
<text x="399.6" y="326.86" font-size="7.4" textLength="20.4" lengthAdjust="spacingAndGlyphs">IL27Ra</text>
<text x="443.2" y="200.7" font-size="12.2" font-weight="bold" fill="#000" style="stroke:#000;stroke-width:0.35px">H</text>
<rect x="472" y="205.3" width="16" height="2.8" fill="#2f4d82"/>
<rect x="472" y="215.35" width="16" height="2.8" fill="#a3022b"/>
<text x="491.1" y="208.6" font-size="6.2" textLength="9.6" lengthAdjust="spacingAndGlyphs">Ctrl</text>
<text x="491.1" y="218.65" font-size="6.2" textLength="9.8" lengthAdjust="spacingAndGlyphs">IKKi</text>
<text transform="translate(450.6 298.1) rotate(-90)" x="0" y="0" font-size="9.9" textLength="61.4" lengthAdjust="spacingAndGlyphs">Relative expression</text>
<line x1="472.3" y1="223" x2="472.3" y2="313.6" stroke="#1a1a1a" stroke-width="1.3"/>
<line x1="469.3" y1="226.2" x2="472.3" y2="226.2" stroke="#1a1a1a" stroke-width="1.1"/>
<text x="465.8" y="228.65" font-size="6.8" text-anchor="end">1.5</text>
<line x1="469.3" y1="255.2" x2="472.3" y2="255.2" stroke="#1a1a1a" stroke-width="1.1"/>
<text x="465.8" y="257.65" font-size="6.8" text-anchor="end">1.0</text>
<line x1="469.3" y1="284.2" x2="472.3" y2="284.2" stroke="#1a1a1a" stroke-width="1.1"/>
<text x="465.8" y="286.65" font-size="6.8" text-anchor="end">0.5</text>
<line x1="469.3" y1="313.1" x2="472.3" y2="313.1" stroke="#1a1a1a" stroke-width="1.1"/>
<text x="465.8" y="315.55" font-size="6.8" text-anchor="end">0.0</text>
<rect x="478.35" y="255.55" width="10.4" height="57.55" fill="#2f4d82" stroke="#213e72" stroke-width="0.7"/>
<line x1="483.55" y1="255.2" x2="483.55" y2="252.6" stroke="#1a1a1a" stroke-width="0.8"/>
<line x1="481.95" y1="252.6" x2="485.15" y2="252.6" stroke="#1a1a1a" stroke-width="0.8"/>
<rect x="489.45" y="279.25" width="11.1" height="33.85" fill="#a3022b" stroke="#92001f" stroke-width="0.7"/>
<line x1="495" y1="278.9" x2="495" y2="278.4" stroke="#1a1a1a" stroke-width="0.8"/>
<line x1="493.4" y1="278.4" x2="496.6" y2="278.4" stroke="#1a1a1a" stroke-width="0.8"/>
<line x1="469.3" y1="313.1" x2="506.7" y2="313.1" stroke="#1a1a1a" stroke-width="1.3"/>
<line x1="489.1" y1="313.1" x2="489.1" y2="316" stroke="#1a1a1a" stroke-width="1.1"/>
<text x="477.5" y="245.93" font-size="6.2" textLength="25.5" lengthAdjust="spacingAndGlyphs">p=0.0109</text>
<text x="478.8" y="324.46" font-size="7.4" textLength="20.1" lengthAdjust="spacingAndGlyphs">IL27Ra</text>
<text x="7.2" y="354.3" font-size="12.2" font-weight="bold" fill="#000" style="stroke:#000;stroke-width:0.35px">I</text>
<text x="14.3" y="369.02" font-size="7" textLength="38.7" lengthAdjust="spacingAndGlyphs">SF-LV-p65 or</text>
<text x="14.3" y="376.92" font-size="7" textLength="46.5" lengthAdjust="spacingAndGlyphs">ETS1 Lentivirus</text>
<circle cx="37.2" cy="383.1" r="1.55" fill="#10109a"/>
<circle cx="33.3" cy="385.1" r="1.55" fill="#10109a"/>
<circle cx="41" cy="385.2" r="1.55" fill="#10109a"/>
<circle cx="37" cy="387.5" r="1.55" fill="#10109a"/>
<circle cx="32.4" cy="389.2" r="1.55" fill="#10109a"/>
<circle cx="42.5" cy="389" r="1.55" fill="#10109a"/>
<circle cx="35.6" cy="392.4" r="1.55" fill="#10109a"/>
<circle cx="39.1" cy="392.8" r="1.55" fill="#10109a"/>
<circle cx="42.6" cy="392.6" r="1.55" fill="#10109a"/>
<line x1="37.6" y1="395" x2="37.6" y2="403" stroke="#111" stroke-width="0.9"/>
<path d="M35.7 402 L39.5 402 L37.6 406.5 Z" fill="#111"/>
<line x1="37.6" y1="431.5" x2="37.6" y2="439.2" stroke="#111" stroke-width="0.9"/>
<path d="M35.7 438.2 L39.5 438.2 L37.6 442.7 Z" fill="#111"/>
<line x1="37.6" y1="454.1" x2="37.6" y2="462.1" stroke="#111" stroke-width="0.9"/>
<path d="M35.7 461.1 L39.5 461.1 L37.6 465.6 Z" fill="#111"/>
<circle cx="38.8" cy="411.4" r="1.45" fill="#f2f2f2" stroke="#666" stroke-width="0.8"/>
<circle cx="32.5" cy="413.4" r="1.45" fill="#f2f2f2" stroke="#666" stroke-width="0.8"/>
<circle cx="36.6" cy="414.5" r="1.45" fill="#f2f2f2" stroke="#666" stroke-width="0.8"/>
<circle cx="40.6" cy="415" r="1.45" fill="#f2f2f2" stroke="#666" stroke-width="0.8"/>
<circle cx="44.9" cy="414.8" r="1.45" fill="#f2f2f2" stroke="#666" stroke-width="0.8"/>
<circle cx="31.6" cy="416.6" r="1.45" fill="#f2f2f2" stroke="#666" stroke-width="0.8"/>
<circle cx="35" cy="418.4" r="1.45" fill="#f2f2f2" stroke="#666" stroke-width="0.8"/>
<circle cx="38.6" cy="419.3" r="1.45" fill="#f2f2f2" stroke="#666" stroke-width="0.8"/>
<circle cx="42" cy="418.6" r="1.45" fill="#f2f2f2" stroke="#666" stroke-width="0.8"/>
<circle cx="45.8" cy="419.5" r="1.45" fill="#f2f2f2" stroke="#666" stroke-width="0.8"/>
<circle cx="32.5" cy="422.4" r="1.45" fill="#f2f2f2" stroke="#666" stroke-width="0.8"/>
<circle cx="36.1" cy="421.3" r="1.45" fill="#f2f2f2" stroke="#666" stroke-width="0.8"/>
<circle cx="41.5" cy="421.3" r="1.45" fill="#f2f2f2" stroke="#666" stroke-width="0.8"/>
<circle cx="44.2" cy="423.5" r="1.45" fill="#f2f2f2" stroke="#666" stroke-width="0.8"/>
<circle cx="38.8" cy="424.2" r="1.45" fill="#f2f2f2" stroke="#666" stroke-width="0.8"/>
<circle cx="35.7" cy="425.6" r="1.45" fill="#f2f2f2" stroke="#666" stroke-width="0.8"/>
<circle cx="40.8" cy="426.2" r="1.45" fill="#f2f2f2" stroke="#666" stroke-width="0.8"/>
<circle cx="33.6" cy="417.6" r="1.45" fill="#f2f2f2" stroke="#666" stroke-width="0.8"/>
<text x="50.8" y="422.32" font-size="7" textLength="11.4" lengthAdjust="spacingAndGlyphs">KSL</text>
<text x="21.9" y="450.9" font-size="7" textLength="31.7" lengthAdjust="spacingAndGlyphs">GFP<tspan font-size="4.2" dy="-3">+</tspan><tspan dy="3"> cells</tspan></text>
<text x="28.8" y="474.82" font-size="7" textLength="17.3" lengthAdjust="spacingAndGlyphs">qPCR</text>
<text x="78.2" y="354.6" font-size="12.2" font-weight="bold" fill="#000" style="stroke:#000;stroke-width:0.35px">J</text>
<rect x="105.8" y="359.3" width="15.8" height="2.8" fill="#2f4d82"/>
<rect x="105.8" y="368.1" width="15.8" height="2.8" fill="#a3022b"/>
<text x="124.8" y="362.6" font-size="6.2" textLength="9.3" lengthAdjust="spacingAndGlyphs">Ctrl</text>
<text x="124.8" y="371.4" font-size="6.2" textLength="12.5" lengthAdjust="spacingAndGlyphs">ETS1</text>
<text transform="translate(85.7 453.1) rotate(-90)" x="0" y="0" font-size="9.9" textLength="61.6" lengthAdjust="spacingAndGlyphs">Relative expression</text>
<line x1="106" y1="378" x2="106" y2="467.9" stroke="#1a1a1a" stroke-width="1.3"/>
<line x1="103" y1="380.6" x2="106" y2="380.6" stroke="#1a1a1a" stroke-width="1.1"/>
<text x="99" y="383.05" font-size="6.8" text-anchor="end">20</text>
<line x1="103" y1="402.5" x2="106" y2="402.5" stroke="#1a1a1a" stroke-width="1.1"/>
<text x="99" y="404.95" font-size="6.8" text-anchor="end">15</text>
<line x1="103" y1="424.4" x2="106" y2="424.4" stroke="#1a1a1a" stroke-width="1.1"/>
<text x="99" y="426.85" font-size="6.8" text-anchor="end">10</text>
<line x1="103" y1="446.2" x2="106" y2="446.2" stroke="#1a1a1a" stroke-width="1.1"/>
<text x="99" y="448.65" font-size="6.8" text-anchor="end">5</text>
<line x1="103" y1="467.4" x2="106" y2="467.4" stroke="#1a1a1a" stroke-width="1.1"/>
<text x="99" y="469.85" font-size="6.8" text-anchor="end">0</text>
<rect x="113.45" y="463.65" width="6.8" height="3.75" fill="#2f4d82" stroke="#213e72" stroke-width="0.7"/>
<line x1="116.85" y1="463.3" x2="116.85" y2="462.8" stroke="#1a1a1a" stroke-width="0.8"/>
<line x1="115.25" y1="462.8" x2="118.45" y2="462.8" stroke="#1a1a1a" stroke-width="0.8"/>
<rect x="120.95" y="402.65" width="6.6" height="64.75" fill="#a3022b" stroke="#92001f" stroke-width="0.7"/>
<line x1="124.25" y1="402.3" x2="124.25" y2="399.2" stroke="#1a1a1a" stroke-width="0.8"/>
<line x1="122.65" y1="399.2" x2="125.85" y2="399.2" stroke="#1a1a1a" stroke-width="0.8"/>
<rect x="142.65" y="463.65" width="7" height="3.75" fill="#2f4d82" stroke="#213e72" stroke-width="0.7"/>
<line x1="146.15" y1="463.3" x2="146.15" y2="462.8" stroke="#1a1a1a" stroke-width="0.8"/>
<line x1="144.55" y1="462.8" x2="147.75" y2="462.8" stroke="#1a1a1a" stroke-width="0.8"/>
<rect x="150.35" y="450.15" width="6.4" height="17.25" fill="#a3022b" stroke="#92001f" stroke-width="0.7"/>
<line x1="153.55" y1="449.8" x2="153.55" y2="449.2" stroke="#1a1a1a" stroke-width="0.8"/>
<line x1="151.95" y1="449.2" x2="155.15" y2="449.2" stroke="#1a1a1a" stroke-width="0.8"/>
<line x1="103" y1="467.4" x2="164.4" y2="467.4" stroke="#1a1a1a" stroke-width="1.3"/>
<line x1="120.6" y1="467.4" x2="120.6" y2="470.3" stroke="#1a1a1a" stroke-width="1.1"/>
<line x1="150" y1="467.4" x2="150" y2="470.3" stroke="#1a1a1a" stroke-width="1.1"/>
<text x="107.6" y="392.63" font-size="6.2" textLength="25.4" lengthAdjust="spacingAndGlyphs">p&lt; 0.0001</text>
<text x="136.2" y="442.03" font-size="6.2" textLength="26.3" lengthAdjust="spacingAndGlyphs">p&lt; 0.0001</text>
<text x="112.5" y="480.36" font-size="7.4" textLength="15.4" lengthAdjust="spacingAndGlyphs">ETS1</text>
<text x="139" y="480.36" font-size="7.4" textLength="21.2" lengthAdjust="spacingAndGlyphs">IL27Ra</text>
<text x="180.6" y="354.6" font-size="12.2" font-weight="bold" fill="#000" style="stroke:#000;stroke-width:0.35px">K</text>
<rect x="207.8" y="359.25" width="16" height="2.8" fill="#2f4d82"/>
<rect x="207.8" y="367.9" width="16" height="2.8" fill="#a3022b"/>
<text x="227" y="362.55" font-size="6.2" textLength="8.9" lengthAdjust="spacingAndGlyphs">Ctrl</text>
<text x="227" y="371.2" font-size="6.2" textLength="26.7" lengthAdjust="spacingAndGlyphs">NF-kB p65</text>
<text transform="translate(187.7 453.1) rotate(-90)" x="0" y="0" font-size="9.9" textLength="61.6" lengthAdjust="spacingAndGlyphs">Relative expression</text>
<line x1="207.6" y1="378" x2="207.6" y2="467.8" stroke="#1a1a1a" stroke-width="1.3"/>
<line x1="204.6" y1="380.5" x2="207.6" y2="380.5" stroke="#1a1a1a" stroke-width="1.1"/>
<text x="201.7" y="382.95" font-size="6.8" text-anchor="end">15</text>
<line x1="204.6" y1="409.4" x2="207.6" y2="409.4" stroke="#1a1a1a" stroke-width="1.1"/>
<text x="201.7" y="411.85" font-size="6.8" text-anchor="end">10</text>
<line x1="204.6" y1="438.3" x2="207.6" y2="438.3" stroke="#1a1a1a" stroke-width="1.1"/>
<text x="201.7" y="440.75" font-size="6.8" text-anchor="end">5</text>
<line x1="204.6" y1="467.3" x2="207.6" y2="467.3" stroke="#1a1a1a" stroke-width="1.1"/>
<text x="201.7" y="469.75" font-size="6.8" text-anchor="end">0</text>
<rect x="215.35" y="462.25" width="6.8" height="5.05" fill="#2f4d82" stroke="#213e72" stroke-width="0.7"/>
<line x1="218.75" y1="461.9" x2="218.75" y2="461.3" stroke="#1a1a1a" stroke-width="0.8"/>
<line x1="217.15" y1="461.3" x2="220.35" y2="461.3" stroke="#1a1a1a" stroke-width="0.8"/>
<rect x="222.85" y="395.05" width="6.6" height="72.25" fill="#a3022b" stroke="#92001f" stroke-width="0.7"/>
<line x1="226.15" y1="394.7" x2="226.15" y2="390.8" stroke="#1a1a1a" stroke-width="0.8"/>
<line x1="224.55" y1="390.8" x2="227.75" y2="390.8" stroke="#1a1a1a" stroke-width="0.8"/>
<rect x="244.55" y="462.25" width="6.6" height="5.05" fill="#2f4d82" stroke="#213e72" stroke-width="0.7"/>
<line x1="247.85" y1="461.9" x2="247.85" y2="461.3" stroke="#1a1a1a" stroke-width="0.8"/>
<line x1="246.25" y1="461.3" x2="249.45" y2="461.3" stroke="#1a1a1a" stroke-width="0.8"/>
<rect x="251.85" y="451.95" width="6.8" height="15.35" fill="#a3022b" stroke="#92001f" stroke-width="0.7"/>
<line x1="255.25" y1="451.7" x2="255.25" y2="451.2" stroke="#1a1a1a" stroke-width="0.8"/>
<line x1="253.65" y1="451.2" x2="256.85" y2="451.2" stroke="#1a1a1a" stroke-width="0.8"/>
<line x1="204.6" y1="467.3" x2="266.3" y2="467.3" stroke="#1a1a1a" stroke-width="1.3"/>
<line x1="222.5" y1="467.3" x2="222.5" y2="470.2" stroke="#1a1a1a" stroke-width="1.1"/>
<line x1="251.5" y1="467.3" x2="251.5" y2="470.2" stroke="#1a1a1a" stroke-width="1.1"/>
<text x="209.4" y="385.23" font-size="6.2" textLength="25.7" lengthAdjust="spacingAndGlyphs">p&lt; 0.0001</text>
<text x="238" y="446.23" font-size="6.2" textLength="26.4" lengthAdjust="spacingAndGlyphs">p= 0.0004</text>
<text x="216.3" y="480.36" font-size="7.4" textLength="12.2" lengthAdjust="spacingAndGlyphs">p65</text>
<text x="240.8" y="480.36" font-size="7.4" textLength="20.7" lengthAdjust="spacingAndGlyphs">IL27Ra</text>
<rect x="1" y="1" width="518" height="1" fill="#e4e4e4"/>
<rect x="1" y="1" width="1" height="487" fill="#e4e4e4"/>
<rect x="1" y="487" width="518" height="1" fill="#d8d8d8"/>
<rect x="518" y="1" width="1" height="487" fill="#d8d8d8"/>
<rect x="0" y="0" width="520" height="1" fill="#000"/>
<rect x="0" y="0" width="1" height="489" fill="#000"/>
<rect x="519" y="0" width="1" height="489" fill="#000"/>
<rect x="0" y="488" width="520" height="1" fill="#000"/>
</svg></body></html>
